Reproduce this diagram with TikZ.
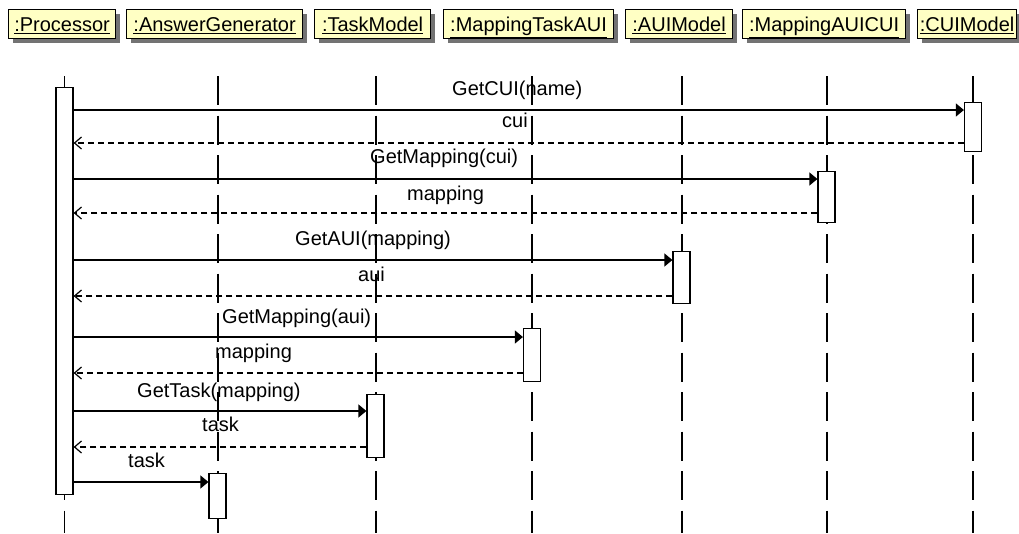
\documentclass[tikz,border=0pt]{standalone}
\usepackage{fontspec}
\setmainfont{Liberation Sans}
\usetikzlibrary{arrows.meta,shadows}
\definecolor{hdrfill}{RGB}{255,255,196}
\begin{document}
\begin{tikzpicture}[x=1pt,y=-1pt,
  hdr/.style={draw=black, line width=1.2pt, fill=hdrfill, inner sep=0pt,
    text height=22pt, text depth=7pt, anchor=north west,
    drop shadow={shadow xshift=4pt,shadow yshift=-4pt,fill=black!55,opacity=1},
    font=\fontsize{20}{24}\selectfont},
  life/.style={line width=1.2pt, dash pattern=on 29pt off 10.5pt},
  act/.style={draw=black, fill=white, line width=1.2pt, inner sep=0pt,
    minimum width=17pt, anchor=north},
  call/.style={line width=1.2pt, -{Triangle[length=8pt,width=13pt]}},
  ret/.style={line width=1.2pt, dash pattern=on 6pt off 4pt,
    -{Straight Barb[length=7pt,width=12pt]}},
  lbl/.style={anchor=base west, inner sep=0pt, font=\fontsize{20}{24}\selectfont}]
\useasboundingbox (0,0) rectangle (1019,533);
% headers
\node[hdr, minimum width=107pt] (hProc) at (8,9) {\underline{:Processor}};
\node[hdr, minimum width=176pt] (hAns) at (126,9) {\underline{:AnswerGenerator}};
\node[hdr, minimum width=116pt] (hTask) at (314,9) {\underline{:TaskModel}};
\node[hdr, minimum width=170pt] (hMTA) at (443,9) {\underline{:MappingTaskAUI}};
\node[hdr, minimum width=107pt] (hAUI) at (625,9) {\underline{:AUIModel}};
\node[hdr, minimum width=163pt] (hMAC) at (742,9) {\underline{:MappingAUICUI}};
\node[hdr, minimum width=99pt] (hCUI) at (917,9) {\underline{:CUIModel}};
% labels
\node[lbl] (l1) at (452,95) {GetCUI(name)};
\node[lbl] (l2) at (502,127) {cui};
\node[lbl] (l3) at (370,163) {GetMapping(cui)};
\node[lbl] (l4) at (407,200) {mapping};
\node[lbl] (l5) at (295,245) {GetAUI(mapping)};
\node[lbl] (l6) at (358,281) {aui};
\node[lbl] (l7) at (222,323) {GetMapping(aui)};
\node[lbl] (l8) at (215,358) {mapping};
\node[lbl] (l9) at (137,397) {GetTask(mapping)};
\node[lbl] (l10) at (202,431) {task};
\node[lbl] (l11) at (128,467) {task};
% lifelines
\foreach \x in {64.5,218,376,532,682,827,973}
  \draw[life] (\x,76) -- (\x,533);
% activations
\node[act, minimum height=407pt] (aProc) at (64.5,87) {};
\node[act, minimum height=49pt] (aCUI) at (973,102) {};
\node[act, minimum height=51pt] (aMAC) at (826.5,171) {};
\node[act, minimum height=52pt] (aAUI) at (681.5,251) {};
\node[act, minimum height=53pt] (aMTA) at (532,328) {};
\node[act, minimum height=63pt] (aTask) at (375.5,394) {};
\node[act, minimum height=45pt] (aAns) at (217.5,473) {};
% messages
\draw[call] (aProc.east |- 0,110) -- (aCUI.west |- 0,110);
\draw[ret] (aCUI.west |- 0,143) -- (aProc.east |- 0,143);
\draw[call] (aProc.east |- 0,179) -- (aMAC.west |- 0,179);
\draw[ret] (aMAC.west |- 0,213) -- (aProc.east |- 0,213);
\draw[call] (aProc.east |- 0,260) -- (aAUI.west |- 0,260);
\draw[ret] (aAUI.west |- 0,296) -- (aProc.east |- 0,296);
\draw[call] (aProc.east |- 0,337) -- (aMTA.west |- 0,337);
\draw[ret] (aMTA.west |- 0,373) -- (aProc.east |- 0,373);
\draw[call] (aProc.east |- 0,411) -- (aTask.west |- 0,411);
\draw[ret] (aTask.west |- 0,447) -- (aProc.east |- 0,447);
\draw[call] (aProc.east |- 0,482) -- (aAns.west |- 0,482);
\end{tikzpicture}
\end{document}
